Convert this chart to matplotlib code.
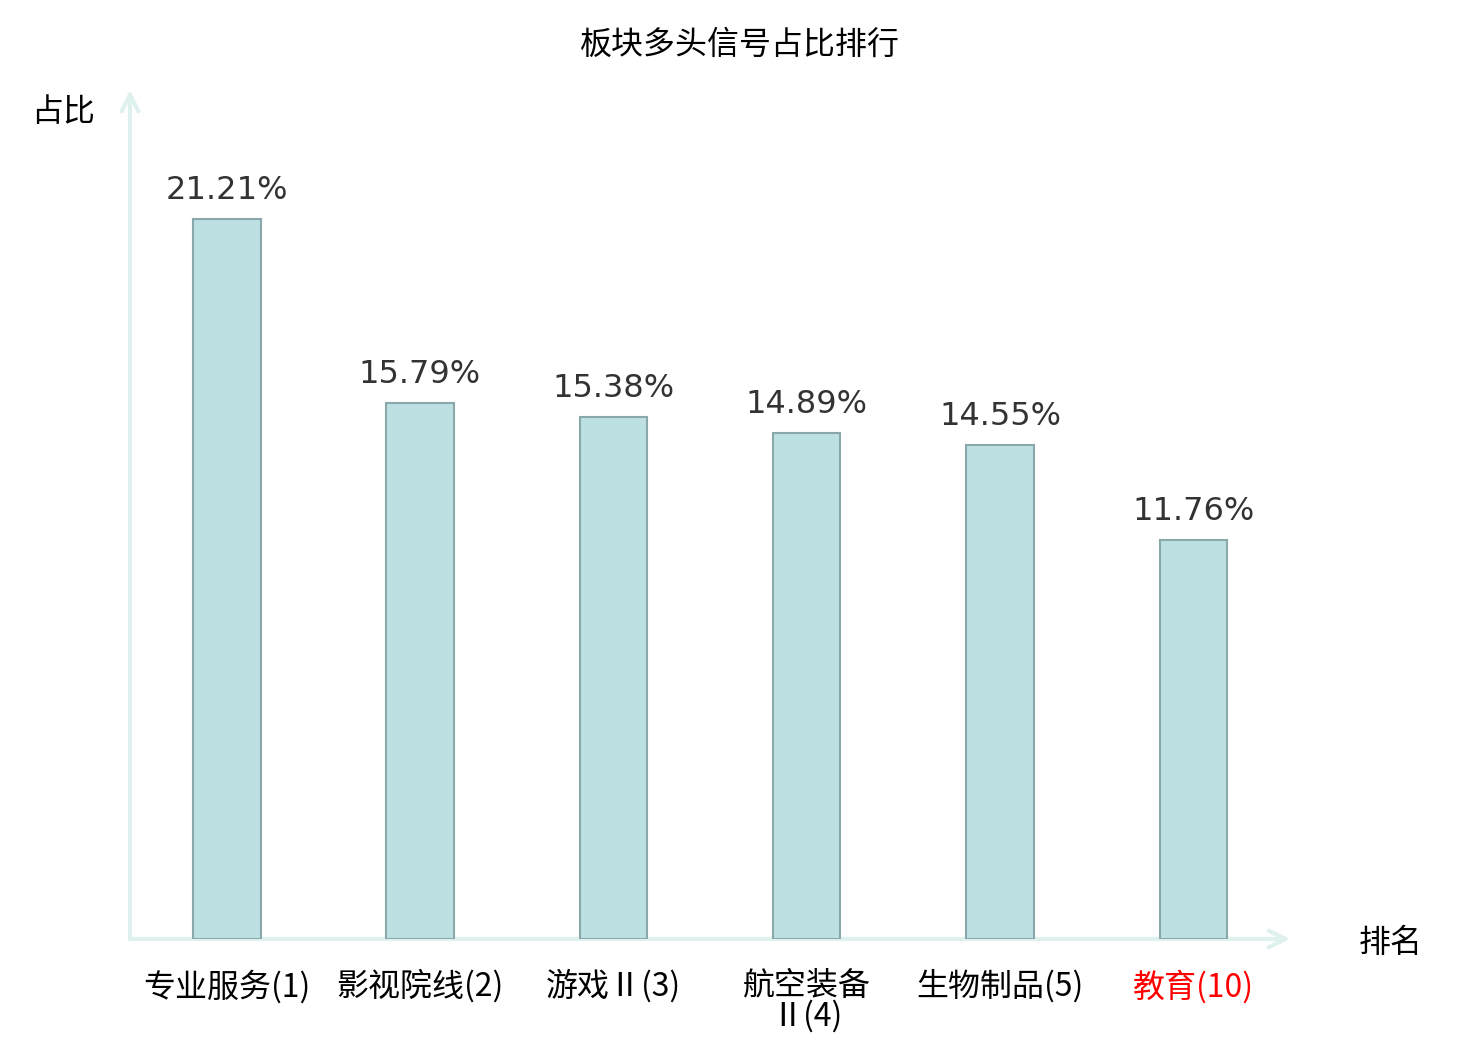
import matplotlib
matplotlib.use("Agg")
import matplotlib.pyplot as plt

plt.rcParams['font.family'] = ['Noto Sans CJK SC', 'DejaVu Sans']

# 数据
sectors = ['专业服务(1)', '影视院线(2)', '游戏Ⅱ(3)', '航空装备\nⅡ(4)', '生物制品(5)', '教育(10)']
ratios = [21.21, 15.79, 15.38, 14.89, 14.55, 11.76]
label_colors = ['black', 'black', 'black', 'black', 'black', 'red']

AXIS_COLOR = '#dff1ef'
BAR_COLOR = '#bde0e3'
EDGE_COLOR = '#8aa8aa'

fig = plt.figure(figsize=(14.8, 10.4), dpi=100)
ax = fig.add_axes([130 / 1480, 101 / 1040, 1160 / 1480, 849 / 1040])

x = list(range(len(sectors)))
bars = ax.bar(x, ratios, width=0.35, color=BAR_COLOR, edgecolor=EDGE_COLOR,
              linewidth=1.5, zorder=3)

for xi, v in zip(x, ratios):
    ax.text(xi, v + 0.38, f'{v:.2f}%', ha='center', va='bottom',
            fontsize=23, color='#333333', family='DejaVu Sans')

ax.set_xlim(-0.5, 5.5)
ax.set_ylim(0, 25)

for s in ax.spines.values():
    s.set_visible(False)
ax.set_yticks([])
ax.set_xticks(x)
ax.set_xticklabels(sectors, fontsize=23, linespacing=0.95)
ax.tick_params(axis='x', length=0, pad=22)
for lbl, c in zip(ax.get_xticklabels(), label_colors):
    lbl.set_color(c)
    lbl.set_verticalalignment('top')

# 坐标轴箭头
ax.annotate('', xy=(0, 1.0), xytext=(0, 0), xycoords='axes fraction',
            arrowprops=dict(arrowstyle='->', color=AXIS_COLOR, lw=3,
                            mutation_scale=30, shrinkA=0, shrinkB=0),
            annotation_clip=False, zorder=1)
ax.annotate('', xy=(1.0, 0), xytext=(0, 0), xycoords='axes fraction',
            arrowprops=dict(arrowstyle='->', color=AXIS_COLOR, lw=3,
                            mutation_scale=30, shrinkA=0, shrinkB=0),
            annotation_clip=False, zorder=1)

fig.text(63 / 1480, 1 - 112 / 1040, '占比', ha='center', va='center', fontsize=23)
fig.text(1391 / 1480, 1 - 943 / 1040, '排名', ha='center', va='center', fontsize=23)
fig.text(740 / 1480, 1 - 45 / 1040, '板块多头信号占比排行', ha='center', va='center',
         fontsize=23)

fig.savefig('out.png', dpi=100, facecolor='white')
